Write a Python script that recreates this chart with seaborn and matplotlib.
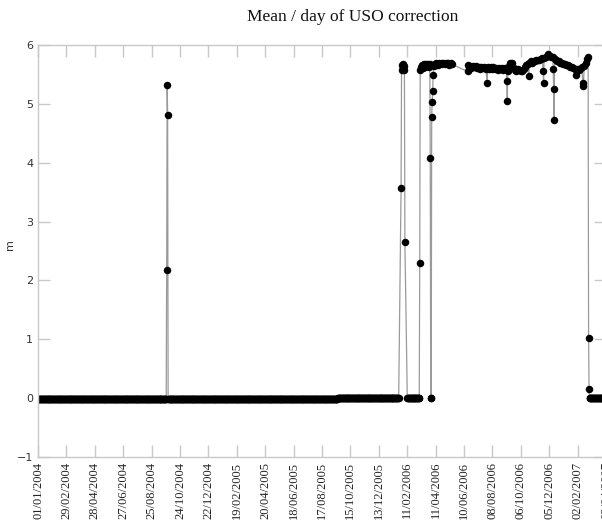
import numpy as np
import pandas as pd
import matplotlib
matplotlib.use("Agg")
import matplotlib.pyplot as plt
import matplotlib.dates as mdates
import seaborn as sns

title = "Mean / day of USO correction"
y_label = "m"
x_tick_labels = ["01/01/2004", "29/02/2004", "28/04/2004", "27/06/2004", "25/08/2004",
                 "24/10/2004", "22/12/2004", "19/02/2005", "20/04/2005", "18/06/2005",
                 "17/08/2005", "15/10/2005", "13/12/2005", "11/02/2006", "11/04/2006",
                 "10/06/2006", "08/08/2006", "06/10/2006", "05/12/2006", "02/02/2007",
                 "03/04/2007"]
y_ticks = [-1, 0, 1, 2, 3, 4, 5, 6]
x_start = "2004-01-01"
x_end = "2007-04-02 09:40"

# flat runs of daily values near zero (start, end, value)
run_starts = ["2004-01-01", "2004-09-29", "2005-09-19", "2006-02-11", "2007-02-27"]
run_ends = ["2004-09-25", "2005-09-18", "2006-01-24", "2006-03-08", "2007-04-05"]
run_values = [-0.02, -0.02, 0.01, 0.01, 0.01]

# individual days
event_dates = [
    "2004-09-26", "2004-09-27", "2004-09-28",
    "2006-01-29", "2006-01-30", "2006-01-31", "2006-02-01", "2006-02-02", "2006-02-03",
    "2006-02-04", "2006-02-05", "2006-02-06",
    "2006-03-09", "2006-03-10", "2006-03-12", "2006-03-14", "2006-03-16", "2006-03-18",
    "2006-03-20", "2006-03-22", "2006-03-24", "2006-03-26", "2006-03-28", "2006-03-30",
    "2006-03-31", "2006-04-01", "2006-04-02", "2006-04-03", "2006-04-04", "2006-04-05",
    "2006-04-06", "2006-04-07", "2006-04-10", "2006-04-13", "2006-04-16", "2006-04-19",
    "2006-04-22", "2006-04-25", "2006-04-28", "2006-05-01", "2006-05-04", "2006-05-07",
    "2006-05-10", "2006-05-13", "2006-05-16",
    "2006-06-17", "2006-06-18", "2006-06-19", "2006-06-22", "2006-06-25", "2006-06-28",
    "2006-07-01", "2006-07-04", "2006-07-07", "2006-07-10", "2006-07-13", "2006-07-16",
    "2006-07-19", "2006-07-22", "2006-07-25", "2006-07-28", "2006-07-29", "2006-08-01",
    "2006-08-04", "2006-08-07", "2006-08-10", "2006-08-13", "2006-08-16", "2006-08-19",
    "2006-08-22", "2006-08-25", "2006-08-28", "2006-08-31", "2006-09-03", "2006-09-06",
    "2006-09-07", "2006-09-08", "2006-09-09", "2006-09-11", "2006-09-13", "2006-09-15",
    "2006-09-18", "2006-09-21", "2006-09-24", "2006-09-27", "2006-09-30", "2006-10-03",
    "2006-10-06", "2006-10-09", "2006-10-12", "2006-10-15", "2006-10-18", "2006-10-21",
    "2006-10-23", "2006-10-24", "2006-10-27", "2006-10-30", "2006-11-02", "2006-11-05",
    "2006-11-08", "2006-11-11", "2006-11-14", "2006-11-17", "2006-11-20", "2006-11-22",
    "2006-11-23", "2006-11-24", "2006-11-27", "2006-11-30", "2006-12-03", "2006-12-06",
    "2006-12-09", "2006-12-12", "2006-12-13", "2006-12-14", "2006-12-15", "2006-12-16",
    "2006-12-19", "2006-12-22", "2006-12-25", "2006-12-28", "2006-12-31", "2007-01-03",
    "2007-01-06", "2007-01-09", "2007-01-12", "2007-01-15", "2007-01-18", "2007-01-21",
    "2007-01-24", "2007-01-27", "2007-01-29", "2007-01-30", "2007-02-02", "2007-02-05",
    "2007-02-08", "2007-02-11", "2007-02-13", "2007-02-14", "2007-02-16", "2007-02-19",
    "2007-02-22", "2007-02-24", "2007-02-25", "2007-02-26",
]
event_values = [
    2.18, 5.32, 4.81,
    3.57, 5.58, 5.66, 5.62, 5.68, 5.60,
    5.64, 5.57, 2.65,
    2.30, 5.58, 5.63, 5.66, 5.61, 5.67,
    5.63, 5.68, 5.64, 5.67, 5.63, 5.68,
    4.08, 0.01, 0.01, 4.78, 5.03, 5.21,
    5.49, 5.64, 5.67, 5.70, 5.66, 5.70,
    5.67, 5.69, 5.70, 5.67, 5.69, 5.70,
    5.66, 5.69, 5.67,
    5.55, 5.66, 5.60, 5.65, 5.61, 5.64,
    5.62, 5.65, 5.61, 5.63, 5.60, 5.63,
    5.61, 5.63, 5.60, 5.36, 5.63, 5.60,
    5.62, 5.59, 5.62, 5.59, 5.61, 5.58,
    5.61, 5.59, 5.61, 5.58, 5.61, 5.60,
    5.38, 5.05, 5.56, 5.64, 5.70, 5.66,
    5.69, 5.62, 5.58, 5.56, 5.60, 5.57,
    5.55, 5.55, 5.60, 5.63, 5.66, 5.68,
    5.47, 5.69, 5.72, 5.70, 5.73, 5.72,
    5.74, 5.75, 5.74, 5.77, 5.78, 5.55,
    5.36, 5.78, 5.80, 5.82, 5.84, 5.82,
    5.80, 5.79, 5.59, 5.26, 4.73, 5.76,
    5.75, 5.73, 5.72, 5.70, 5.69, 5.68,
    5.67, 5.66, 5.66, 5.64, 5.63, 5.62,
    5.61, 5.60, 5.49, 5.60, 5.59, 5.58,
    5.60, 5.62, 5.35, 5.30, 5.64, 5.70,
    5.76, 5.79, 1.03, 0.15,
]

# ---- assemble data table ----
frames = []
for s, e, v in zip(run_starts, run_ends, run_values):
    d = pd.date_range(s, e, freq="D")
    frames.append(pd.DataFrame({"date": d, "value": v}))
frames.append(pd.DataFrame({"date": pd.to_datetime(event_dates), "value": event_values}))
df = pd.concat(frames).sort_values("date").reset_index(drop=True)

sns.set_theme(style="white")
plt.rcParams["font.family"] = ["DejaVu Sans"]

fig = plt.figure(figsize=(6.02, 5.21), dpi=100)
ax = fig.add_axes([38 / 602, 64 / 521, 568 / 602, 412 / 521])

sns.lineplot(data=df, x="date", y="value", estimator=None, sort=True, ax=ax,
             color="#9a9a9a", linewidth=0.9, marker="o", markersize=5.4,
             markerfacecolor="black", markeredgecolor="black", markeredgewidth=0)

x0 = mdates.date2num(pd.Timestamp(x_start))
x1 = mdates.date2num(pd.Timestamp(x_end))
ax.set_xlim(x0, x1)
ax.set_ylim(-1, 6)
xticks = np.linspace(x0, x1, len(x_tick_labels))
ax.set_xticks(xticks)
ax.set_xticklabels(x_tick_labels, rotation=90, fontsize=9,
                   family=["Liberation Serif"], color="#222222")
ax.set_yticks(y_ticks)
ax.set_yticklabels(["\u22121" if t < 0 else str(t) for t in y_ticks], fontsize=8,
                   color="#333333")
ax.set_xlabel("")
ax.set_ylabel("")

for sp in ax.spines.values():
    sp.set_visible(True)
    sp.set_color("#c8c8c8")
    sp.set_linewidth(1.0)
ax.tick_params(axis="both", which="major", direction="in", length=8.5, width=1.0,
               color="#c8c8c8", top=True, right=True, bottom=True, left=True, pad=3.5)
ax.grid(False)

fig.text(353 / 602, 1 - 17 / 521, title, ha="center", va="center", fontsize=12.5,
         family=["Liberation Serif"], color="#111111")
fig.text(10 / 602, 1 - 245 / 521, y_label, ha="center", va="center", rotation=90,
         fontsize=8, color="#333333")

fig.savefig("out.png", dpi=100)
